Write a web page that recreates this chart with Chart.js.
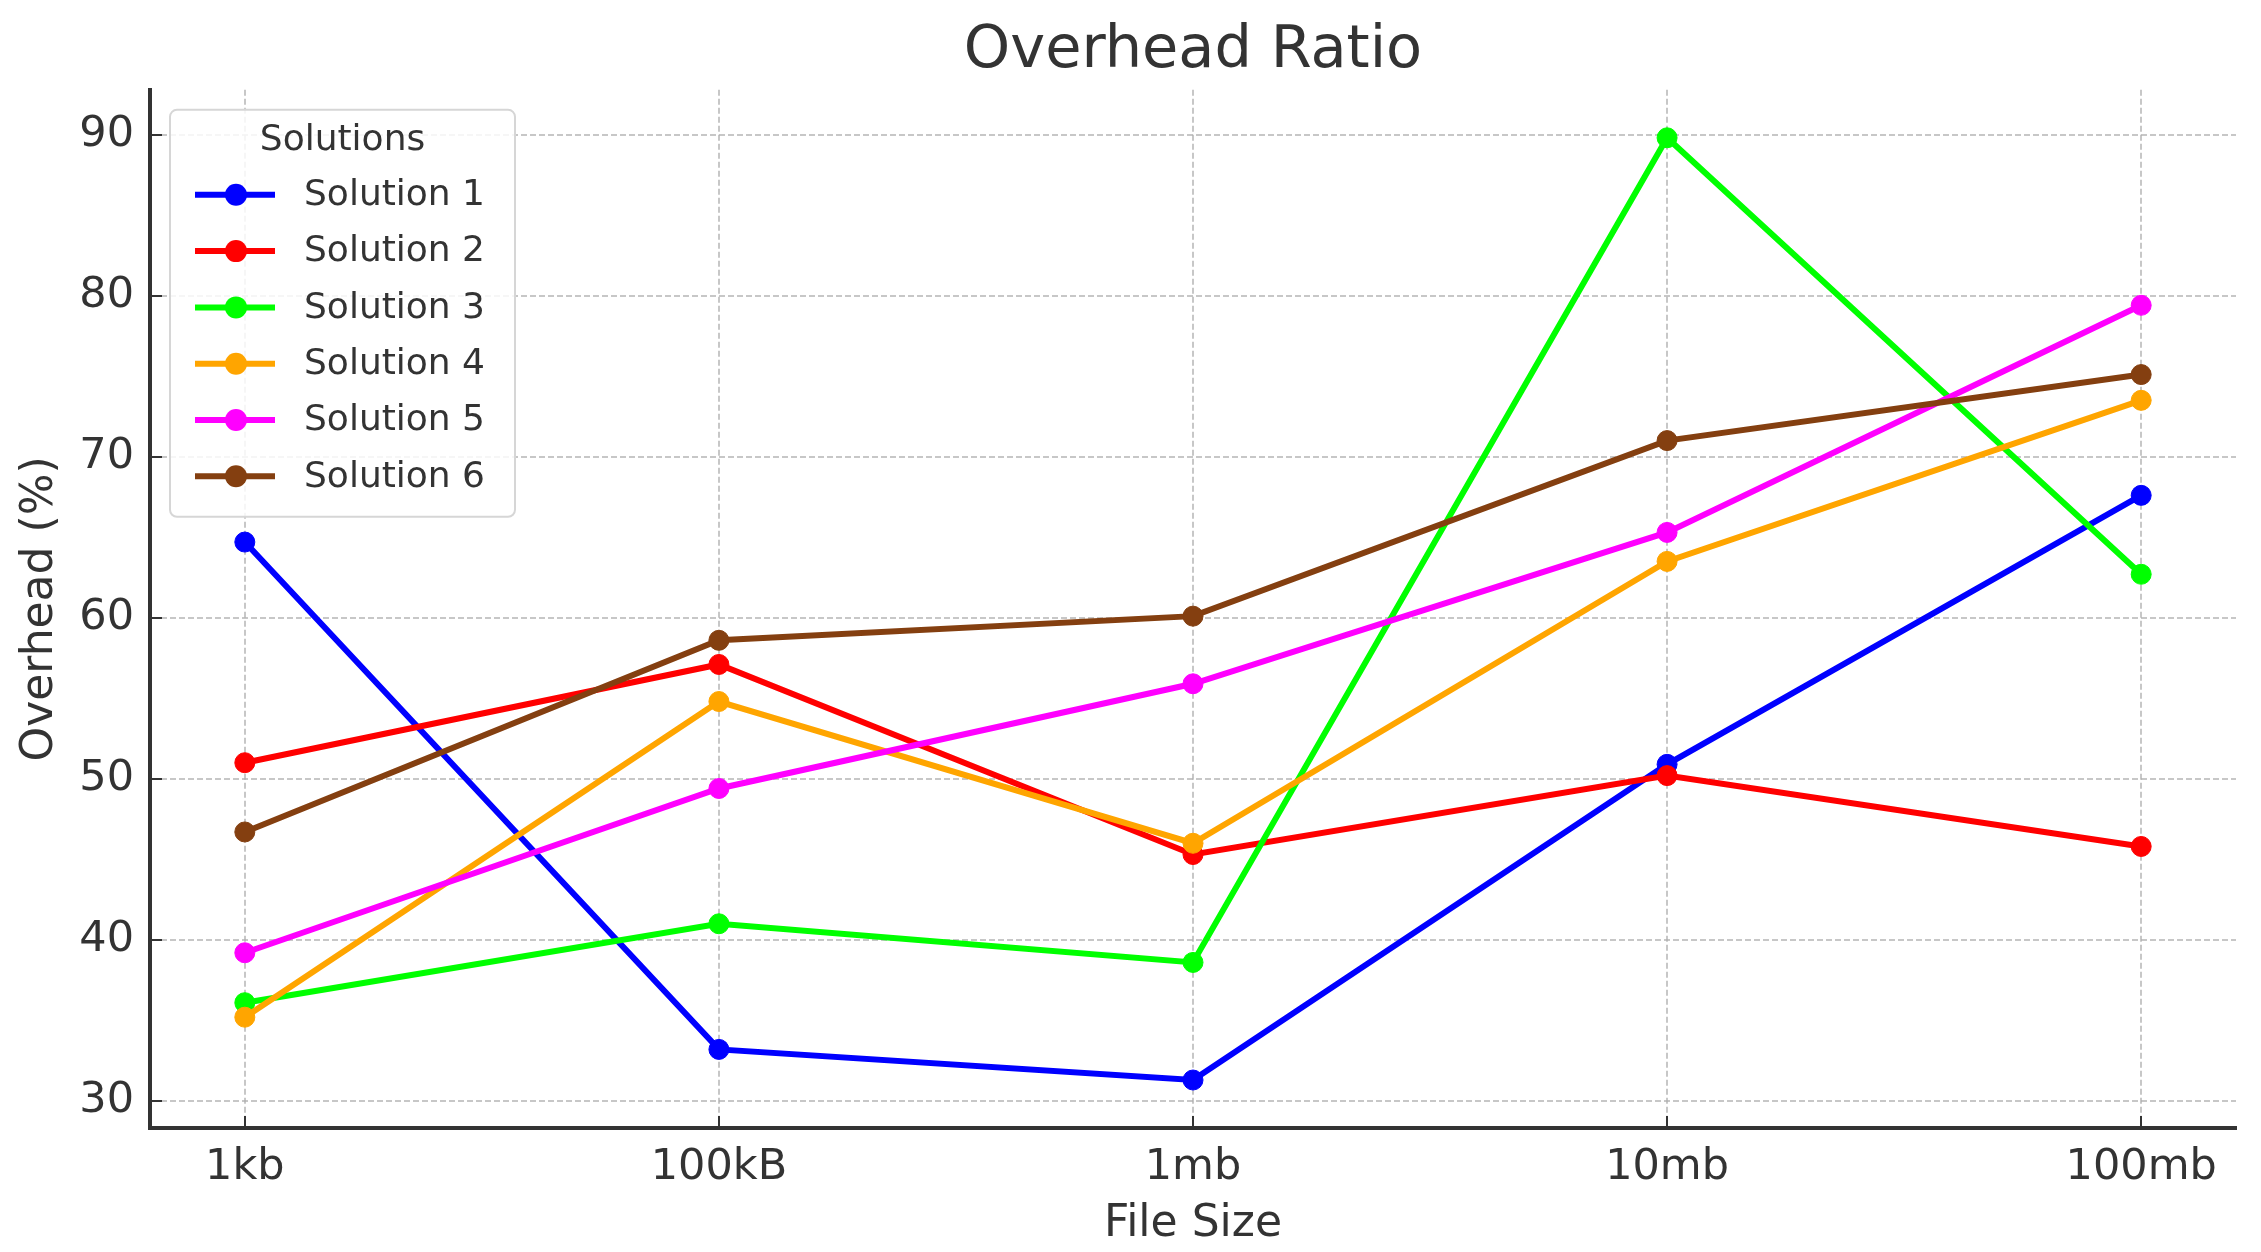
<!DOCTYPE html>
<html>
<head>
<meta charset="utf-8">
<script src="https://cdn.jsdelivr.net/npm/chart.js@4.4.1/dist/chart.umd.min.js"></script>
<style>
    html, body { margin: 0; padding: 0; background: #fff; }
    #wrap { width: 2261px; height: 1252px; }
</style>
</head>
<body>
<div id="wrap"><canvas id="chart-overhead"></canvas></div>
<script>
var fileSizes = ["1kb", "100kB", "1mb", "10mb", "100mb"];
var solution1 = [64.7, 33.2, 31.3, 50.9, 67.6];
var solution2 = [51.0, 57.1, 45.3, 50.2, 45.8];
var solution3 = [36.1, 41.0, 38.6, 89.8, 62.7];
var solution4 = [35.2, 54.8, 46.0, 63.5, 73.5];
var solution5 = [39.2, 49.4, 55.9, 65.3, 79.4];
var solution6 = [46.7, 58.6, 60.1, 71.0, 75.1];
var seriesNames = ["Solution 1", "Solution 2", "Solution 3", "Solution 4", "Solution 5", "Solution 6"];
var seriesColors = ["#0000ff", "#ff0000", "#00ff00", "#ffa500", "#ff00ff", "#843f10"];
var yTicks = [30, 40, 50, 60, 70, 80, 90];

var FONT = "DejaVu Sans";
var allSeries = [solution1, solution2, solution3, solution4, solution5, solution6];

var datasets = allSeries.map(function(vals, i) {
    return {
        label: seriesNames[i],
        data: vals.map(function(v, j) { return {x: j, y: v}; }),
        borderColor: seriesColors[i],
        backgroundColor: seriesColors[i],
        pointBackgroundColor: seriesColors[i],
        pointBorderColor: seriesColors[i],
        borderWidth: 6,
        pointRadius: 10,
        pointBorderWidth: 1,
        tension: 0,
        fill: false,
        order: allSeries.length - i   // matplotlib style: last series on top
    };
});

// legend box inside the plot, top-left (like matplotlib loc="upper left")
var legendInside = {
    id: 'legendInside',
    afterDraw(chart) {
        var ctx = chart.ctx;
        var area = chart.chartArea;
        var x0 = area.left + 20, y0 = area.top + 20;
        var w = 345, h = 407;
        ctx.save();
        ctx.beginPath();
        ctx.roundRect(x0, y0, w, h, 7);
        ctx.fillStyle = 'rgba(255,255,255,0.85)';
        ctx.fill();
        ctx.lineWidth = 2;
        ctx.strokeStyle = '#d6d6d6';
        ctx.stroke();

        ctx.fillStyle = '#333';
        ctx.font = '36px "' + FONT + '"';
        ctx.textBaseline = 'middle';
        ctx.textAlign = 'center';
        ctx.fillText('Solutions', x0 + w / 2, y0 + 31);

        ctx.textAlign = 'left';
        chart.data.datasets.forEach(function(ds, i) {
            var y = y0 + 85 + i * 56.3;
            ctx.strokeStyle = ds.borderColor;
            ctx.lineWidth = 6;
            ctx.beginPath();
            ctx.moveTo(x0 + 25, y);
            ctx.lineTo(x0 + 105, y);
            ctx.stroke();
            ctx.fillStyle = ds.borderColor;
            ctx.beginPath();
            ctx.arc(x0 + 66, y, 11, 0, Math.PI * 2);
            ctx.fill();
            ctx.fillStyle = '#333';
            ctx.fillText(ds.label, x0 + 134, y + 1);
        });
        ctx.restore();
    }
};

var ctx = document.getElementById("chart-overhead").getContext("2d");

new Chart(ctx, {
    type: "line",
    data: { datasets: datasets },
    plugins: [legendInside],
    options: {
        responsive: true,
        maintainAspectRatio: false,
        animation: false,
        layout: { padding: { left: 0, right: 25, top: 0, bottom: 0 } },
        plugins: {
            legend: { display: false },
            tooltip: { enabled: false },
            title: {
                display: true,
                fullSize: false,
                text: 'Overhead Ratio',
                color: '#333',
                padding: { top: 16, bottom: 3 },
                font: { family: FONT, size: 59, weight: 'normal', lineHeight: 1.2 }
            }
        },
        scales: {
            x: {
                type: 'linear',
                min: -0.2,
                max: 4.2,
                afterBuildTicks: function(axis) {
                    axis.ticks = fileSizes.map(function(_, i) { return {value: i}; });
                },
                afterFit: function(scale) { scale.height = 124; },
                grid: {
                    color: 'rgba(175,175,175,0.7)',
                    lineWidth: 2,
                    drawTicks: true,
                    tickLength: -12,
                    tickColor: '#333',
                    tickWidth: 2
                },
                border: { display: true, color: '#333', width: 4, dash: [6, 3] },
                ticks: {
                    padding: 26,
                    maxRotation: 0,
                    autoSkip: false,
                    color: '#333',
                    font: { family: FONT, size: 43 },
                    callback: function(value) { return fileSizes[value]; }
                },
                title: {
                    display: true,
                    text: 'File Size',
                    color: '#333',
                    padding: { top: 0, bottom: 1 },
                    font: { family: FONT, size: 44, lineHeight: 1.2 }
                }
            },
            y: {
                min: 28.32,
                max: 92.78,
                afterBuildTicks: function(axis) {
                    axis.ticks = yTicks.map(function(v) { return {value: v}; });
                },
                afterFit: function(scale) { scale.width = 150; },
                grid: {
                    color: 'rgba(175,175,175,0.7)',
                    lineWidth: 2,
                    drawTicks: true,
                    tickLength: -12,
                    tickColor: '#333',
                    tickWidth: 2
                },
                border: { display: true, color: '#333', width: 4, dash: [6, 3] },
                ticks: {
                    padding: 28,
                    color: '#333',
                    font: { family: FONT, size: 43 }
                },
                title: {
                    display: true,
                    text: 'Overhead (%)',
                    color: '#333',
                    padding: { top: 14, bottom: 0 },
                    font: { family: FONT, size: 44, lineHeight: 1.2 }
                }
            }
        }
    }
});
</script>
</body>
</html>
